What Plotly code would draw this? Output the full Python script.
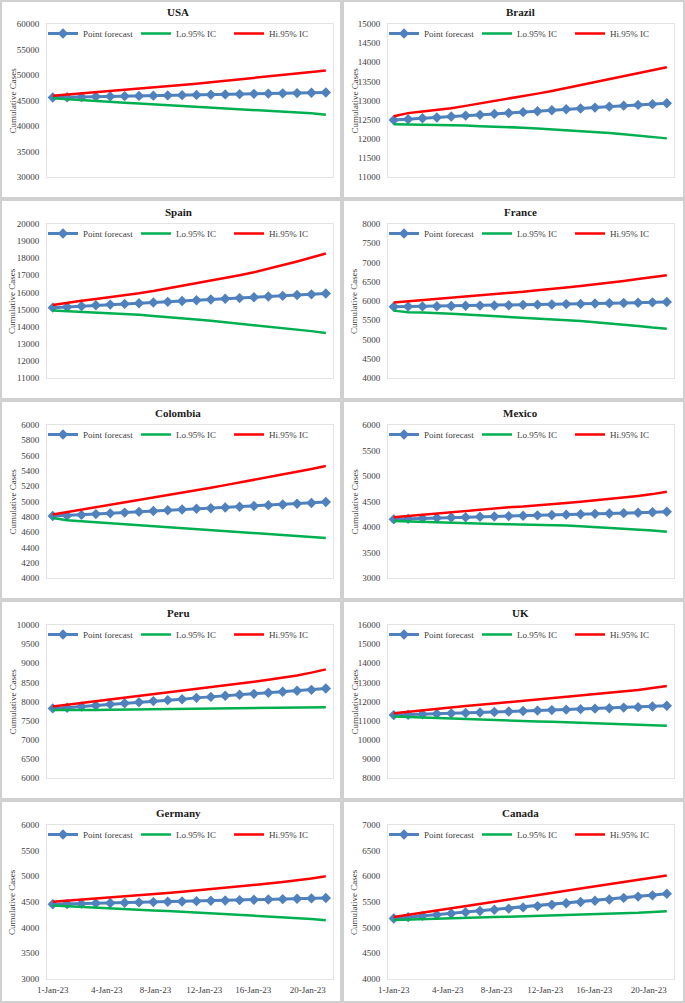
import plotly.graph_objects as go

W, H = 685, 1003

days = list(range(1, 21))
tick_text = ["1-Jan-23", "4-Jan-23", "8-Jan-23", "12-Jan-23", "16-Jan-23", "20-Jan-23"]

countries = ["USA", "Brazil", "Spain", "France", "Colombia", "Mexico", "Peru", "UK", "Germany", "Canada"]

usa_point = [45600, 45650, 45700, 45760, 45800, 45850, 45900, 45950, 46000, 46050, 46100, 46150, 46200, 46250, 46300, 46350, 46400, 46450, 46520, 46580]
usa_lo = [45460, 45250, 45050, 44880, 44700, 44550, 44400, 44250, 44100, 43950, 43800, 43650, 43500, 43350, 43200, 43050, 42880, 42700, 42480, 42200]
usa_hi = [45920, 46150, 46380, 46600, 46820, 47050, 47280, 47500, 47780, 48050, 48300, 48580, 48850, 49100, 49400, 49700, 49980, 50250, 50580, 50900]

brazil_point = [12490, 12510, 12535, 12555, 12580, 12605, 12625, 12650, 12675, 12695, 12720, 12745, 12770, 12790, 12815, 12840, 12865, 12885, 12905, 12930]
brazil_lo = [12380, 12375, 12370, 12365, 12355, 12345, 12330, 12320, 12310, 12290, 12270, 12250, 12230, 12200, 12175, 12150, 12115, 12080, 12050, 12010]
brazil_hi = [12590, 12670, 12710, 12750, 12800, 12860, 12920, 12980, 13040, 13110, 13180, 13250, 13330, 13400, 13480, 13560, 13640, 13720, 13800, 13870]

spain_point = [15110, 15150, 15200, 15250, 15290, 15330, 15370, 15410, 15450, 15500, 15540, 15590, 15630, 15670, 15720, 15760, 15800, 15850, 15890, 15940]
spain_lo = [14950, 14910, 14880, 14850, 14810, 14770, 14700, 14630, 14570, 14500, 14420, 14340, 14260, 14180, 14090, 14010, 13930, 13840, 13740, 13630]
spain_hi = [15260, 15400, 15510, 15620, 15720, 15830, 15950, 16080, 16230, 16390, 16550, 16710, 16860, 17010, 17180, 17380, 17590, 17810, 18040, 18280]

france_point = [5850, 5855, 5860, 5865, 5870, 5875, 5880, 5885, 5890, 5900, 5905, 5910, 5920, 5925, 5935, 5940, 5950, 5955, 5965, 5975]
france_lo = [5750, 5710, 5700, 5690, 5670, 5650, 5630, 5610, 5590, 5570, 5550, 5530, 5510, 5480, 5450, 5420, 5390, 5350, 5310, 5280]
france_hi = [5960, 5990, 6020, 6050, 6080, 6110, 6140, 6170, 6200, 6240, 6280, 6310, 6350, 6390, 6430, 6470, 6520, 6570, 6620, 6670]

colombia_point = [4810, 4815, 4825, 4835, 4845, 4855, 4865, 4875, 4885, 4895, 4905, 4912, 4922, 4932, 4942, 4952, 4960, 4970, 4980, 4993]
colombia_lo = [4784, 4756, 4743, 4730, 4717, 4704, 4691, 4678, 4665, 4652, 4639, 4626, 4613, 4600, 4587, 4574, 4561, 4549, 4536, 4523]
colombia_hi = [4830, 4861, 4892, 4923, 4955, 4987, 5019, 5051, 5083, 5115, 5148, 5181, 5214, 5248, 5282, 5317, 5352, 5388, 5425, 5463]

mexico_point = [4150, 4160, 4170, 4178, 4185, 4192, 4200, 4207, 4214, 4220, 4228, 4235, 4242, 4250, 4258, 4265, 4272, 4280, 4290, 4300]
mexico_lo = [4120, 4110, 4100, 4085, 4075, 4068, 4062, 4058, 4055, 4052, 4048, 4040, 4030, 4015, 4000, 3985, 3970, 3955, 3930, 3905]
mexico_hi = [4190, 4215, 4245, 4275, 4300, 4320, 4345, 4365, 4385, 4400, 4420, 4445, 4470, 4495, 4520, 4550, 4580, 4610, 4645, 4690]

peru_point = [7820, 7835, 7870, 7895, 7930, 7955, 7980, 8010, 8035, 8060, 8095, 8120, 8150, 8175, 8200, 8230, 8255, 8280, 8305, 8340]
peru_lo = [7780, 7775, 7775, 7780, 7785, 7790, 7795, 7800, 7805, 7810, 7815, 7820, 7825, 7830, 7835, 7840, 7845, 7845, 7848, 7850]
peru_hi = [7870, 7915, 7960, 8005, 8050, 8095, 8140, 8185, 8232, 8279, 8326, 8373, 8421, 8469, 8518, 8567, 8620, 8680, 8755, 8840]

uk_point = [11290, 11310, 11330, 11355, 11380, 11400, 11425, 11450, 11475, 11500, 11525, 11550, 11575, 11600, 11625, 11650, 11680, 11705, 11740, 11775]
uk_lo = [11220, 11190, 11160, 11130, 11105, 11080, 11055, 11030, 11005, 10980, 10955, 10935, 10915, 10895, 10870, 10840, 10815, 10790, 10760, 10730]
uk_hi = [11390, 11470, 11550, 11620, 11690, 11760, 11830, 11900, 11970, 12040, 12110, 12170, 12230, 12300, 12370, 12440, 12520, 12600, 12700, 12810]

germany_point = [4455, 4462, 4468, 4474, 4480, 4486, 4492, 4498, 4505, 4511, 4517, 4523, 4530, 4536, 4543, 4550, 4556, 4563, 4570, 4578]
germany_lo = [4430, 4415, 4400, 4390, 4375, 4365, 4350, 4335, 4325, 4310, 4300, 4285, 4270, 4255, 4240, 4225, 4210, 4190, 4170, 4145]
germany_hi = [4505, 4525, 4545, 4570, 4590, 4610, 4630, 4650, 4675, 4700, 4725, 4750, 4775, 4800, 4830, 4860, 4890, 4920, 4960, 5000]

canada_point = [5180, 5205, 5230, 5250, 5275, 5300, 5325, 5350, 5370, 5395, 5420, 5445, 5475, 5500, 5525, 5550, 5580, 5605, 5630, 5660]
canada_lo = [5150, 5160, 5168, 5176, 5184, 5192, 5200, 5208, 5215, 5222, 5230, 5238, 5245, 5253, 5260, 5270, 5280, 5290, 5305, 5320]
canada_hi = [5210, 5250, 5295, 5335, 5380, 5420, 5465, 5505, 5550, 5590, 5635, 5680, 5720, 5765, 5805, 5850, 5890, 5935, 5975, 6015]

series = [
    (usa_point, usa_lo, usa_hi),
    (brazil_point, brazil_lo, brazil_hi),
    (spain_point, spain_lo, spain_hi),
    (france_point, france_lo, france_hi),
    (colombia_point, colombia_lo, colombia_hi),
    (mexico_point, mexico_lo, mexico_hi),
    (peru_point, peru_lo, peru_hi),
    (uk_point, uk_lo, uk_hi),
    (germany_point, germany_lo, germany_hi),
    (canada_point, canada_lo, canada_hi),
]

y_ranges = [(30000, 60000, 5000), (11000, 15000, 500), (11000, 20000, 1000), (4000, 8000, 500),
            (4000, 6000, 200), (3000, 6000, 500), (6000, 10000, 500), (8000, 16000, 1000),
            (3000, 6000, 500), (4000, 7000, 500)]

# ---- layout geometry (pixels) ----
col_plot_x = [(47, 333), (388, 674)]
row_plot_y = [(24, 177), (224, 378), (425, 578), (625, 778), (825, 979)]
row_title_y = [12, 212, 413, 613, 813]
col_title_x = [178, 520]
cell_rows = [(0, 199), (199, 400), (400, 600), (600, 800), (800, 1003)]
cell_cols = [(0, 342), (342, 685)]

FONT = "Liberation Serif, Times New Roman, serif"
BLUE = "#4F81BD"
GREEN = "#00B050"
RED = "#FF0000"
TXT = "#404040"

def px(x):
    return x / W

def py(y):
    return 1 - y / H

tick_pos = [1, 4.75, 8.15, 11.55, 14.95, 18.75]

fig = go.Figure()
layout = dict(
    width=W, height=H, margin=dict(l=0, r=0, t=0, b=0, autoexpand=False),
    paper_bgcolor="white", plot_bgcolor="white",
    font=dict(family=FONT, size=9, color=TXT),
    showlegend=True,
)
annotations = []
shapes = []

for i, name in enumerate(countries):
    r, c = divmod(i, 2)
    k = i + 1
    xa = "x" if k == 1 else f"x{k}"
    ya = "y" if k == 1 else f"y{k}"
    lg = "legend" if k == 1 else f"legend{k}"
    pt, lo, hi = series[i]
    fig.add_trace(go.Scatter(x=days, y=pt, name="Point forecast", mode="lines+markers",
                             line=dict(color=BLUE, width=3), marker=dict(symbol="diamond", size=8, color=BLUE),
                             xaxis=xa, yaxis=ya, legend=lg))
    fig.add_trace(go.Scatter(x=days, y=lo, name="Lo.95% IC", mode="lines",
                             line=dict(color=GREEN, width=2.5), xaxis=xa, yaxis=ya, legend=lg))
    fig.add_trace(go.Scatter(x=days, y=hi, name="Hi.95% IC", mode="lines",
                             line=dict(color=RED, width=2.5), xaxis=xa, yaxis=ya, legend=lg))

    x0, x1 = col_plot_x[c]
    y0, y1 = row_plot_y[r]
    ymin, ymax, dt = y_ranges[i]
    layout["xaxis" if k == 1 else f"xaxis{k}"] = dict(
        domain=[px(x0), px(x1)], anchor=ya, range=[0.6, 20.5], automargin=False,
        showgrid=False, zeroline=False, showline=True, linecolor="#e3e3e3", linewidth=1, mirror=True,
        tickmode="array", tickvals=tick_pos, ticktext=tick_text,
        showticklabels=(r == 4), ticks="", ticklabelstandoff=2,
        tickfont=dict(family=FONT, size=9, color=TXT), fixedrange=True,
    )
    layout["yaxis" if k == 1 else f"yaxis{k}"] = dict(
        domain=[py(y1), py(y0)], anchor=xa, range=[ymin, ymax], automargin=False,
        tickmode="linear", tick0=ymin, dtick=dt, tickformat="d",
        showgrid=False, zeroline=False, showline=True, linecolor="#e3e3e3", linewidth=1, mirror=True,
        ticks="", ticklabelstandoff=5, tickfont=dict(family=FONT, size=9, color=TXT), fixedrange=True,
    )
    layout[lg] = dict(
        x=px(x0 - 4), y=py(y0 - 5), xanchor="left", yanchor="top", orientation="h",
        bgcolor="rgba(0,0,0,0)", font=dict(family=FONT, size=9, color=TXT),
        itemwidth=30, tracegroupgap=0, entrywidth=48, entrywidthmode="pixels",
    )
    annotations.append(dict(text=f"<b>{name}</b>", x=px(col_title_x[c]), y=py(row_title_y[r]),
                            xref="paper", yref="paper", showarrow=False, xanchor="center", yanchor="middle",
                            font=dict(family=FONT, size=11, color="#1a1a1a")))
    annotations.append(dict(text="Cumulative Cases", x=px(cell_cols[c][0] + 12), y=py((y0 + y1) / 2),
                            xref="paper", yref="paper", showarrow=False, textangle=-90,
                            xanchor="center", yanchor="middle",
                            font=dict(family=FONT, size=9, color=TXT)))
    cx0, cx1 = cell_cols[c]
    cy0, cy1 = cell_rows[r]
    shapes.append(dict(type="rect", xref="paper", yref="paper",
                       x0=px(cx0 + 1), x1=px(cx1 - 1), y0=py(cy1 - 1), y1=py(cy0 + 1),
                       line=dict(color="#d0d0d0", width=2), fillcolor="rgba(0,0,0,0)", layer="below"))

layout["annotations"] = annotations
layout["shapes"] = shapes
fig.update_layout(**layout)
fig.write_html("out.html", config={"displayModeBar": False},
               post_script="document.body.style.margin='0';")
